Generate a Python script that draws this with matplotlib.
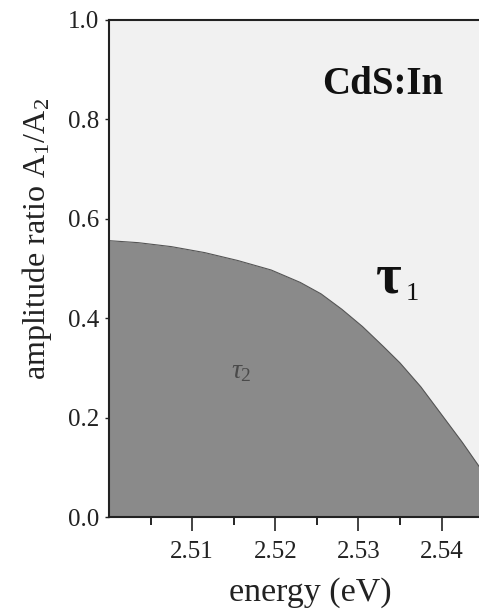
import numpy as np
import matplotlib
matplotlib.use("Agg")
import matplotlib.pyplot as plt

# boundary between the tau_2 region (below) and the tau_1 region (above)
energy = [2.5000, 2.5035, 2.5075, 2.5115, 2.5155, 2.5195, 2.5230, 2.5255,
          2.5280, 2.5305, 2.5330, 2.5350, 2.5375, 2.5400, 2.5425, 2.5445]
ratio = [0.556, 0.552, 0.544, 0.532, 0.516, 0.497, 0.472, 0.449,
         0.418, 0.383, 0.343, 0.310, 0.262, 0.206, 0.150, 0.102]

xticks = [2.51, 2.52, 2.53, 2.54]
xminor = [2.505, 2.515, 2.525, 2.535]
yticks = [0.0, 0.2, 0.4, 0.6, 0.8, 1.0]

plt.rcParams['font.family'] = ['Liberation Serif', 'DejaVu Serif']
plt.rcParams['mathtext.fontset'] = 'custom'
plt.rcParams['mathtext.rm'] = 'Liberation Serif'
plt.rcParams['mathtext.it'] = 'Liberation Serif:italic'

fig = plt.figure(figsize=(4.79, 6.16), dpi=100)
ax = fig.add_axes([109 / 479, 1 - 517 / 616, 1 - 109 / 479, (517 - 20) / 616])

ax.set_facecolor('#f1f1f1')
ax.fill_between(energy, 0, ratio, color='#8a8a8a', linewidth=0)
ax.plot(energy, ratio, color='#555555', linewidth=0.8)

ax.set_xlim(2.500, 2.5445)
ax.set_ylim(0, 1.0)

ax.set_xticks(xticks)
ax.set_xticklabels(['%.2f' % t for t in xticks])
ax.set_xticks(xminor, minor=True)
ax.set_yticks(yticks)
ax.set_yticklabels(['%.1f' % t for t in yticks])

ax.tick_params(axis='x', which='major', direction='out', length=10, width=1.2,
               labelsize=18, pad=7, colors='#222222')
ax.tick_params(axis='x', which='minor', direction='out', length=6, width=1.2)
ax.tick_params(axis='y', direction='out', length=3, width=1.0, labelsize=18,
               pad=4, colors='#222222')

for s in ['left', 'bottom', 'top']:
    ax.spines[s].set_linewidth(1.5)
    ax.spines[s].set_color('#222222')
ax.spines['right'].set_visible(False)

ax.set_xlabel('energy (eV)', fontsize=24.5, color='#222222')
ax.xaxis.set_label_coords(0.543, -0.122)
ax.set_ylabel(r'amplitude ratio A$_{1}$/A$_{2}$', fontsize=23, color='#222222')
ax.yaxis.set_label_coords(-0.148, 0.56)

# annotations
ax.text(2.5329, 0.87, 'CdS:In', fontsize=28, fontweight='bold', ha='center',
        va='center', color='#111111')
ax.text(2.5337, 0.48, '\u03c4', fontsize=40, fontweight='bold', ha='center',
        va='center', color='#111111')
ax.text(2.5357, 0.437, '1', fontsize=19, ha='left', va='baseline', color='#111111')
ax.text(2.5159, 0.292, r'$\tau_2$', fontsize=20, ha='center', va='center',
        color='#4a4a4a')

fig.savefig('out.png', dpi=100)
